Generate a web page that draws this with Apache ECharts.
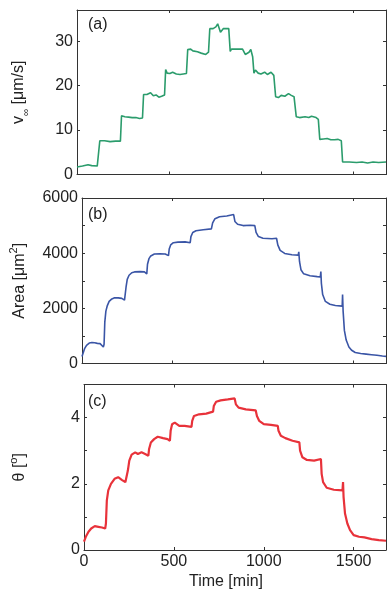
<!DOCTYPE html>
<html>
<head>
<meta charset="utf-8">
<script src="https://cdn.jsdelivr.net/npm/echarts@6/dist/echarts.min.js"></script>
<style>html,body{margin:0;padding:0;background:#fff}#c{width:391px;height:591px}</style>
</head>
<body>
<div id="c"></div>
<script>
// Time axis ticks
const timeTicks = [0, 500, 1000, 1500];

// Panel (a): v_inf [um/s] vs time [min]
const velocity = [[0,1.7],[30,1.9],[60,2.2],[80,2.0],[110,1.9],[118,2.2],[124,7.6],[150,7.6],[180,7.4],[210,7.5],[236,7.5],[242,13.2],[260,13.0],[280,12.9],[300,12.8],[320,12.8],[340,12.6],[356,12.7],[362,18.0],[380,18.0],[400,18.4],[415,17.7],[430,17.9],[445,17.4],[460,17.6],[476,17.9],[482,23.6],[490,22.8],[505,22.7],[520,23.0],[540,22.6],[560,22.5],[595,22.7],[602,28.1],[610,27.9],[618,28.2],[630,27.8],[640,28.1],[655,27.6],[675,27.3],[700,27.0],[715,27.5],[722,32.8],[740,32.8],[755,33.2],[765,33.9],[780,32.0],[795,32.8],[825,32.8],[833,27.7],[840,28.2],[870,28.2],[900,28.2],[915,27.0],[935,27.5],[945,28.1],[955,26.5],[962,22.8],[970,23.5],[985,22.8],[1000,22.6],[1020,23.0],[1035,22.5],[1055,23.0],[1070,22.3],[1080,17.5],[1095,17.3],[1110,17.8],[1130,17.6],[1150,18.2],[1165,17.8],[1180,17.5],[1192,13.0],[1210,12.8],[1240,13.0],[1260,12.8],[1275,13.1],[1300,12.8],[1312,12.4],[1320,7.9],[1340,8.0],[1360,8.1],[1380,7.8],[1400,7.8],[1420,7.9],[1437,7.6],[1444,2.8],[1480,2.8],[1520,2.7],[1550,2.8],[1580,2.6],[1610,2.8],[1640,2.7],[1680,2.8]];

// Panel (b): Area [um^2] vs time [min]
const area = [[0,250],[5,350],[15,550],[25,660],[40,740],[55,760],[70,750],[85,730],[100,720],[110,700],[118,600],[122,700],[126,1500],[132,1900],[140,2100],[150,2250],[165,2340],[180,2380],[200,2380],[220,2360],[235,2300],[240,2260],[244,2800],[250,3050],[260,3200],[275,3290],[290,3320],[320,3330],[345,3320],[358,3250],[362,3600],[370,3800],[380,3900],[400,3970],[430,3980],[460,3970],[478,3910],[482,4150],[490,4300],[505,4380],[530,4400],[570,4410],[598,4380],[602,4600],[612,4750],[630,4810],[670,4850],[715,4880],[722,5100],[735,5250],[760,5320],[800,5350],[838,5400],[845,5150],[860,5050],[890,5000],[930,5010],[955,5000],[962,4750],[975,4600],[1000,4540],[1050,4520],[1075,4540],[1082,4300],[1095,4100],[1120,3990],[1160,3940],[1195,3930],[1198,4050],[1202,3700],[1210,3400],[1225,3250],[1260,3180],[1300,3150],[1317,3140],[1320,3330],[1323,2900],[1330,2500],[1345,2250],[1370,2150],[1400,2100],[1438,2080],[1440,2500],[1443,1900],[1450,1200],[1460,850],[1475,600],[1490,480],[1510,400],[1540,360],[1570,340],[1600,320],[1630,300],[1660,270],[1680,260]];

// Panel (c): theta [deg] vs time [min]
const theta = [[0,0.25],[10,0.4],[25,0.55],[40,0.65],[60,0.72],[80,0.7],[100,0.68],[118,0.65],[122,0.8],[127,1.5],[135,1.8],[150,2.0],[170,2.15],[190,2.2],[210,2.12],[230,2.05],[240,2.05],[244,2.4],[252,2.7],[265,2.88],[285,2.95],[300,2.9],[320,2.95],[340,2.9],[358,2.85],[362,3.05],[372,3.25],[390,3.35],[410,3.42],[440,3.38],[465,3.35],[478,3.3],[482,3.6],[490,3.8],[505,3.85],[530,3.75],[560,3.75],[598,3.72],[602,3.9],[612,4.05],[640,4.1],[680,4.12],[718,4.18],[722,4.35],[735,4.48],[760,4.52],[800,4.55],[838,4.58],[845,4.4],[860,4.3],[900,4.25],[955,4.22],[962,4.05],[975,3.9],[1000,3.8],[1040,3.78],[1078,3.75],[1082,3.6],[1095,3.45],[1120,3.38],[1160,3.3],[1198,3.25],[1202,3.0],[1215,2.8],[1240,2.72],[1280,2.7],[1318,2.75],[1322,2.3],[1330,2.05],[1350,1.88],[1390,1.82],[1438,1.8],[1441,2.05],[1444,1.6],[1452,1.1],[1465,0.8],[1480,0.6],[1500,0.45],[1530,0.4],[1560,0.38],[1600,0.33],[1640,0.3],[1680,0.28]];

const panelLabels = ['(a)', '(b)', '(c)'];
const xMax = 1680;

const FONT = 'Liberation Sans';
const AX = '#333';
const grids = [
  {left: 77, right: 5, top: 10, height: 164.5},
  {left: 77, right: 5, top: 198, height: 165.5},
  {left: 77, right: 5, top: 384.5, height: 166}
];

function xAxes(i) {
  const base = {
    type: 'value', gridIndex: i, min: 0, max: xMax, interval: 500,
    axisLine: {show: true, onZero: false, lineStyle: {color: AX, width: 1}},
    axisTick: {show: true, inside: true, length: 3, lineStyle: {color: AX}},
    splitLine: {show: false}
  };
  return [
    Object.assign({}, base, {position: 'bottom',
      axisLabel: {show: i === 2, showMaxLabel: false, color: '#222', fontFamily: FONT, fontSize: 16, margin: 4,
        formatter: v => (timeTicks.indexOf(v) >= 0 ? String(v) : '')},
      name: i === 2 ? 'Time [min]' : '', nameLocation: 'middle', nameGap: 24,
      nameTextStyle: {color: '#222', fontFamily: FONT, fontSize: 16, padding: [0, 18, 0, 0]}}),
    Object.assign({}, base, {position: 'top', axisLabel: {show: false}})
  ];
}

function yAxes(i, max, interval, fmt, nameRich, gap) {
  const base = {
    type: 'value', gridIndex: i, min: 0, max: max, interval: interval,
    axisLine: {show: true, onZero: false, lineStyle: {color: AX, width: 1}},
    axisTick: {show: true, inside: true, length: 3, lineStyle: {color: AX}},
    splitLine: {show: false}
  };
  const rich = {
    a: {fontFamily: FONT, fontSize: 16, color: '#222', lineHeight: 24, verticalAlign: 'middle'},
    sub: {fontFamily: FONT, fontSize: 10, color: '#222', lineHeight: 10, verticalAlign: 'bottom'},
    sup: {fontFamily: FONT, fontSize: 11, color: '#222', lineHeight: 11, verticalAlign: 'top'}
  };
  return [
    Object.assign({}, base, {position: 'left',
      axisLabel: {color: '#222', fontFamily: FONT, fontSize: 16, margin: 4, formatter: fmt},
      name: nameRich, nameLocation: 'middle', nameGap: gap,
      nameTextStyle: {fontFamily: FONT, fontSize: 16, color: '#222', rich: rich}}),
    Object.assign({}, base, {position: 'right', axisLabel: {show: false}})
  ];
}

const xAxis = [].concat(xAxes(0), xAxes(1), xAxes(2));
const yAxis = [].concat(
  yAxes(0, 37, 10, v => (v % 10 === 0 ? String(v) : ''), '{a|v}{sub|∞}{a| [μm/s]}', 46),
  yAxes(1, 6000, 1000, v => (v % 2000 === 0 ? String(v) : ''), '{a|Area [μm}{sup|2}{a|]}', 50),
  yAxes(2, 5, 1, v => (v % 2 === 0 ? String(v) : ''), '{a|θ [}{sup|o}{a|]}', 52)
);

const colors = ['#2b9c6c', '#3a55a6', '#e8323a'];
const datasets = [velocity, area, theta];
const series = datasets.map((d, i) => ({
  type: 'line', xAxisIndex: i * 2, yAxisIndex: i * 2, data: d,
  showSymbol: false, symbol: 'none', lineStyle: {color: colors[i], width: i === 2 ? 2.2 : 1.6},
  animation: false
}));

const titles = panelLabels.map((t, i) => ({
  text: t, left: 83, top: [12, 202, 389][i],
  textStyle: {fontFamily: FONT, fontSize: 16, fontWeight: 'normal', color: '#222'}
}));

const chart = echarts.init(document.getElementById('c'), null, {renderer: 'canvas'});
chart.setOption({
  backgroundColor: '#fff',
  animation: false,
  title: titles,
  grid: grids,
  xAxis: xAxis,
  yAxis: yAxis,
  series: series
});
</script>
</body>
</html>
